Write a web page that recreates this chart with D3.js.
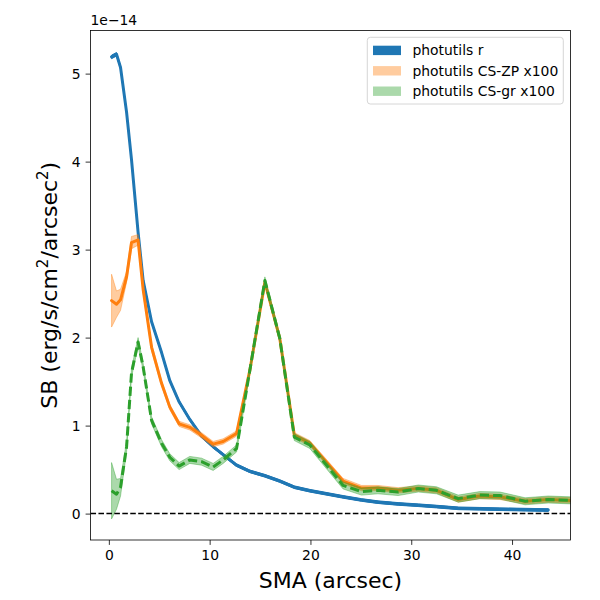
<!DOCTYPE html>
<html><head><meta charset="utf-8">
<script src="https://cdn.jsdelivr.net/npm/d3@7"></script>
<style>body{margin:0;background:#fff}svg{display:block}text{font-family:"DejaVu Sans",sans-serif}</style>
</head><body>
<svg id="c" width="600" height="600"></svg>
<script>
// SMA sample points (arcsec)
const sma = [0.27, 0.76, 1.16, 1.76, 2.25, 2.9, 3.4, 4.24, 5.23, 6.05, 6.97, 8.03, 9.2, 10.35, 11.34, 12.67, 13.99, 15.48, 16.96, 18.4, 19.94, 23.24, 25.07, 26.7, 28.7, 30.7, 32.5, 34.66, 36.8, 38.8, 41.3, 43.6, 45.9];
// values in units of 1e-14
const photR = [5.19, 5.22, 5.07, 4.56, 4.02, 3.20, 2.65, 2.18, 1.83, 1.51, 1.27, 1.07, 0.88, 0.76, 0.67, 0.55, 0.48, 0.43, 0.37, 0.30, 0.26, 0.19, 0.155, 0.13, 0.11, 0.095, 0.08, 0.06, 0.055, 0.05, 0.045, 0.04];
const photRErr = [0.02, 0.02, 0.02, 0.02, 0.02, 0.02, 0.02, 0.015, 0.015, 0.015, 0.015, 0.015, 0.015, 0.015, 0.015, 0.015, 0.015, 0.015, 0.015, 0.015, 0.015, 0.015, 0.015, 0.015, 0.015, 0.015, 0.015, 0.015, 0.015, 0.015, 0.015, 0.015];
const csZP = [2.42, 2.38, 2.43, 2.69, 3.08, 3.11, 2.55, 1.89, 1.48, 1.21, 1.02, 0.98, 0.89, 0.79, 0.82, 0.91, 1.63, 2.63, 1.99, 0.89, 0.80, 0.37, 0.29, 0.29, 0.265, 0.285, 0.265, 0.16, 0.20, 0.19, 0.14, 0.16, 0.15];
const csZPErr = [0.30, 0.15, 0.12, 0.06, 0.07, 0.06, 0.04, 0.04, 0.03, 0.03, 0.03, 0.03, 0.03, 0.03, 0.03, 0.03, 0.03, 0.03, 0.03, 0.03, 0.03, 0.03, 0.03, 0.03, 0.03, 0.03, 0.03, 0.03, 0.03, 0.03, 0.03, 0.03, 0.03];
const csGR = [0.26, 0.22, 0.30, 0.76, 1.60, 1.95, 1.67, 1.06, 0.80, 0.64, 0.54, 0.61, 0.59, 0.53, 0.61, 0.74, 1.63, 2.65, 1.99, 0.87, 0.78, 0.32, 0.25, 0.265, 0.245, 0.285, 0.265, 0.17, 0.21, 0.205, 0.14, 0.16, 0.15];
const csGRErr = [0.32, 0.17, 0.10, 0.06, 0.05, 0.05, 0.04, 0.04, 0.04, 0.04, 0.04, 0.04, 0.04, 0.04, 0.04, 0.04, 0.04, 0.04, 0.04, 0.04, 0.04, 0.04, 0.04, 0.04, 0.04, 0.04, 0.04, 0.04, 0.04, 0.04, 0.04, 0.04, 0.04];
const legendLabels = ["photutils r", "photutils CS-ZP x100", "photutils CS-gr x100"];
const xTicks = [0, 10, 20, 30, 40];
const yTicks = [0, 1, 2, 3, 4, 5];

const L = 90.5, R = 570.5, T = 30.5, B = 540;
const svg = d3.select("#c");
const x = d3.scaleLinear().domain([-1.82, 45.8]).range([L, R]);
const y = d3.scaleLinear().domain([-0.30, 5.49]).range([B, T]);

const clip = svg.append("defs").append("clipPath").attr("id", "clip")
  .append("rect").attr("x", L).attr("y", T).attr("width", R - L).attr("height", B - T);
const g = svg.append("g").attr("clip-path", "url(#clip)");

function series(vals, errs, color, bandOpacity, dashed) {
  const pts = vals.map((v, i) => ({x: sma[i], v, e: errs[i]}));
  const area = d3.area().x(d => x(d.x)).y0(d => y(d.v - d.e)).y1(d => y(d.v + d.e));
  g.append("path").datum(pts).attr("d", area).attr("fill", color).attr("fill-opacity", bandOpacity)
    .attr("stroke", color).attr("stroke-opacity", bandOpacity).attr("stroke-width", 1);
  const line = d3.line().x(d => x(d.x)).y(d => y(d.v));
  const p = g.append("path").datum(pts).attr("d", line).attr("fill", "none").attr("stroke", color)
    .attr("stroke-width", 3).attr("stroke-linejoin", "round").attr("stroke-linecap", dashed ? "butt" : "round");
  if (dashed) p.attr("stroke-dasharray", "9.25,4");
}
series(photR, photRErr, "#1f77b4", 1, false);
series(csZP, csZPErr, "#ff7f0e", 0.4, false);
series(csGR, csGRErr, "#2ca02c", 0.4, true);

// zero line
g.append("line").attr("x1", L).attr("x2", R).attr("y1", y(0)).attr("y2", y(0))
  .attr("stroke", "#000").attr("stroke-width", 1.5).attr("stroke-dasharray", "5.55,2.4");

// axes
const xa = svg.append("g").attr("transform", `translate(0,${B})`)
  .call(d3.axisBottom(x).tickValues(xTicks).tickFormat(d3.format("d")).tickSize(4.9).tickPadding(4.9));
const ya = svg.append("g").attr("transform", `translate(${L},0)`)
  .call(d3.axisLeft(y).tickValues(yTicks).tickFormat(d3.format("d")).tickSize(4.9).tickPadding(4.9));
[xa, ya].forEach(a => {
  a.select(".domain").remove();
  a.selectAll("text").attr("font-size", "13.9px").attr("fill", "#000").attr("font-family", "DejaVu Sans");
  a.selectAll("line").attr("stroke", "#000").attr("stroke-width", 0.8);
});
svg.append("rect").attr("x", L).attr("y", T).attr("width", R - L).attr("height", B - T)
  .attr("fill", "none").attr("stroke", "#000").attr("stroke-width", 0.8);

// offset text
svg.append("text").attr("x", L).attr("y", 25).attr("font-size", "13.9px").text("1e\u221214");

// axis labels
svg.append("text").attr("x", (L + R) / 2).attr("y", 588).attr("text-anchor", "middle")
  .attr("font-size", "22px").text("SMA (arcsec)");
const yl = svg.append("text").attr("transform", `translate(56.5,${(T + B) / 2}) rotate(-90)`)
  .attr("text-anchor", "middle").attr("font-size", "22px");
yl.append("tspan").text("SB (erg/s/cm");
yl.append("tspan").attr("font-size", "15px").attr("dy", -9).text("2");
yl.append("tspan").attr("dy", 9).text("/arcsec");
yl.append("tspan").attr("font-size", "15px").attr("dy", -9).text("2");
yl.append("tspan").attr("dy", 9).text(")");

// legend
const lg = svg.append("g");
lg.append("rect").attr("x", 367.3).attr("y", 37.3).attr("width", 196).attr("height", 66.7).attr("rx", 3)
  .attr("fill", "#fff").attr("fill-opacity", 0.8).attr("stroke", "#cccccc").attr("stroke-width", 0.8);
const lcol = ["#1f77b4", "#ff7f0e", "#2ca02c"], lop = [1, 0.4, 0.4];
legendLabels.forEach((t, i) => {
  const cy = 50.3 + i * 20.4;
  lg.append("rect").attr("x", 373).attr("y", cy - 4.6).attr("width", 28).attr("height", 9.4)
    .attr("fill", lcol[i]).attr("fill-opacity", lop[i]);
  lg.append("text").attr("x", 412.5).attr("y", cy).attr("dy", "0.35em").attr("font-size", "13.9px").text(t);
});
</script>
</body></html>
